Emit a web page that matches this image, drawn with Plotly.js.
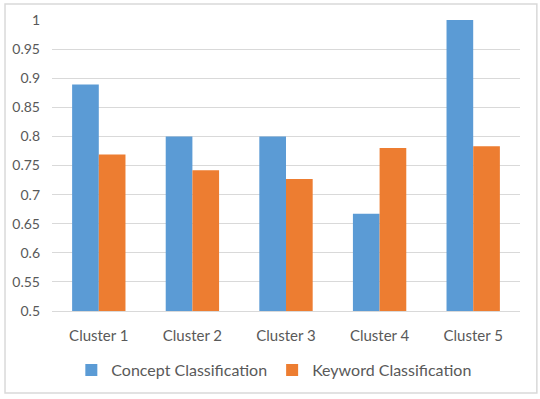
<!DOCTYPE html>
<html>
<head>
<meta charset="utf-8">
<script src="https://cdn.plot.ly/plotly-3.0.1.min.js"></script>
<style>
html,body{margin:0;padding:0;background:#fff;}
#chart{width:540px;height:399px;}
</style>
</head>
<body>
<div id="chart"></div>
<script>
const categories = ["Cluster 1", "Cluster 2", "Cluster 3", "Cluster 4", "Cluster 5"];
const conceptValues = [0.889, 0.8, 0.8, 0.667, 1.0];
const keywordValues = [0.769, 0.742, 0.727, 0.78, 0.783];
const seriesNames = ["Concept Classification", "Keyword Classification"];
const yTicks = [0.5, 0.55, 0.6, 0.65, 0.7, 0.75, 0.8, 0.85, 0.9, 0.95, 1];
const yTickLabels = ["0.5", "0.55", "0.6", "0.65", "0.7", "0.75", "0.8", "0.85", "0.9", "0.95", "1"];

const fontFam = "Lato, 'Open Sans', sans-serif";
const data = [
  {type: "bar", x: categories, y: conceptValues, name: seriesNames[0], marker: {color: "#5b9bd5"}},
  {type: "bar", x: categories, y: keywordValues, name: seriesNames[1], marker: {color: "#ed7d31"}}
];
const layout = {
  width: 540, height: 399,
  margin: {l: 52, r: 20, t: 20, b: 88},
  paper_bgcolor: "#fff", plot_bgcolor: "#fff",
  barmode: "group", bargap: 0.43, bargroupgap: 0,
  font: {family: fontFam, color: "#595959", size: 13},
  xaxis: {
    showgrid: false, showline: true, linecolor: "#d9d9d9", linewidth: 1,
    ticks: "", tickfont: {size: 15, color: "#595959"}, ticklabelstandoff: 11
  },
  yaxis: {
    range: [0.5, 1], tickvals: yTicks, ticktext: yTickLabels,
    showgrid: true, gridcolor: "#d9d9d9", gridwidth: 1, zeroline: false,
    showline: false, ticks: "", tickfont: {size: 14, color: "#595959"},
    ticklabelstandoff: 11
  },
  showlegend: true,
  legend: {
    orientation: "h", x: 0.474, xanchor: "center", y: -0.203, yanchor: "middle",
    font: {size: 16, color: "#595959"}, itemwidth: 30, tracegroupgap: 0
  },
  shapes: [{
    type: "rect", xref: "paper", yref: "paper",
    x0: -0.1004, x1: 1.036, y0: -0.282, y1: 1.055,
    line: {color: "#d9d9d9", width: 1.5}, fillcolor: "rgba(0,0,0,0)", layer: "below"
  }]
};
Plotly.newPlot("chart", data, layout, {displayModeBar: false, staticPlot: true});
</script>
</body>
</html>
